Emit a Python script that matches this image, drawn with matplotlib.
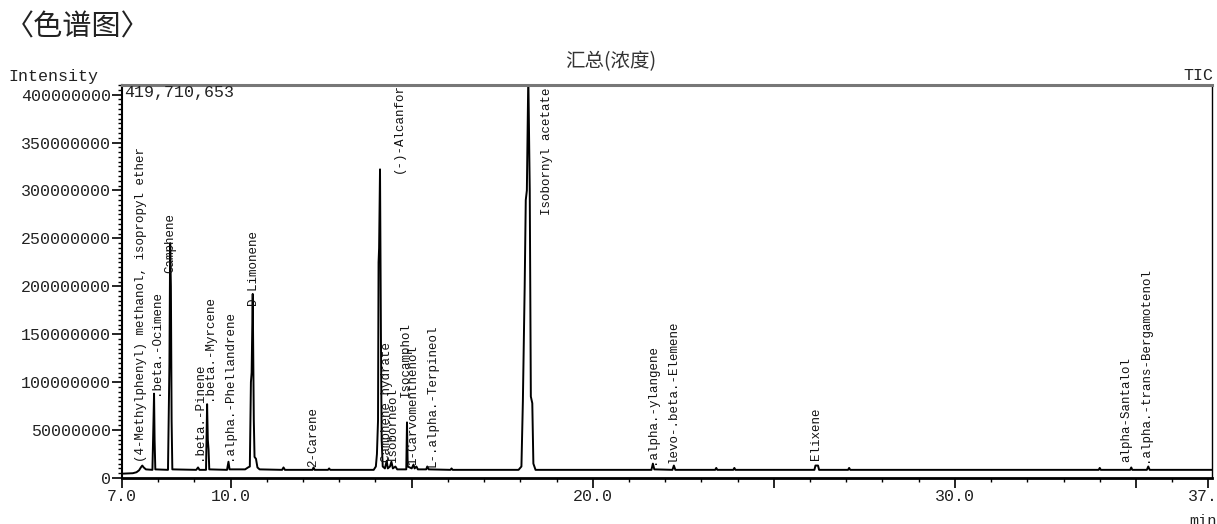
import matplotlib
matplotlib.use("Agg")
import matplotlib.pyplot as plt
from matplotlib.ticker import MultipleLocator, FixedLocator

W, H = 1217, 524
MONO = "Liberation Mono"
CJK = ["Noto Sans CJK SC", "DejaVu Sans"]

# --- TIC trace (min, intensity in millions) ---------------------------------
trace_min = [7.00, 7.30, 7.40, 7.47, 7.52, 7.56, 7.60, 7.66,
             7.84, 7.87, 7.885, 7.90, 7.92,
             8.27, 8.31, 8.33, 8.35, 8.37, 8.39,
             9.05, 9.10, 9.14, 9.32, 9.35, 9.37, 9.39, 9.41,
             9.90, 9.94, 9.97,
             10.40, 10.48, 10.53, 10.56, 10.58, 10.61, 10.64, 10.66, 10.70, 10.74, 10.80,
             11.42, 11.46, 11.50, 12.26, 12.29, 12.32, 12.69, 12.72, 12.75,
             13.95, 14.01, 14.04, 14.07, 14.085, 14.10, 14.125, 14.15, 14.17, 14.20,
             14.26, 14.31, 14.34, 14.40, 14.44, 14.48, 14.55, 14.60,
             14.85, 14.87, 14.89, 15.00, 15.05, 15.08, 15.13, 15.17,
             15.40, 15.43, 15.47, 16.07, 16.10, 16.13,
             17.95, 18.03, 18.07, 18.12, 18.15, 18.18, 18.22, 18.26, 18.29, 18.33, 18.36, 18.42,
             21.62, 21.66, 21.70, 22.20, 22.24, 22.28,
             23.38, 23.41, 23.44, 23.88, 23.91, 23.94,
             26.12, 26.15, 26.22, 26.25, 27.05, 27.08, 27.11,
             33.97, 34.00, 34.03, 34.84, 34.87, 34.90, 35.30, 35.34, 35.38, 37.10]
trace_int = [4.5, 5.0, 6.0, 8.0, 11.0, 13.0, 11.0, 9.0,
             8.5, 60.0, 88.0, 40.0, 9.0,
             8.5, 120.0, 245.0, 200.0, 60.0, 9.0,
             8.5, 11.0, 8.5, 8.5, 77.0, 40.0, 30.0, 9.0,
             8.5, 17.0, 9.0,
             9.0, 11.0, 12.0, 100.0, 110.0, 192.0, 60.0, 22.0, 20.0, 11.0, 9.0,
             8.5, 11.0, 8.5, 8.5, 11.0, 8.5, 8.5, 10.0, 8.5,
             8.5, 12.0, 25.0, 60.0, 225.0, 240.0, 322.0, 150.0, 40.0, 12.0,
             10.0, 18.0, 10.0, 12.0, 17.0, 10.0, 12.0, 9.0,
             9.0, 58.0, 12.0, 10.0, 14.0, 10.0, 12.0, 9.0,
             9.0, 12.0, 9.0, 8.5, 10.0, 8.5,
             8.5, 12.0, 80.0, 200.0, 290.0, 300.0, 419.710653, 300.0, 85.0, 78.0, 15.0, 8.5,
             8.5, 15.0, 9.0, 8.5, 13.0, 8.5,
             8.5, 10.5, 8.5, 8.5, 10.5, 8.5,
             8.5, 13.0, 13.0, 8.5, 8.5, 10.5, 8.5,
             8.5, 10.5, 8.5, 8.5, 11.0, 8.5, 8.5, 12.0, 8.5, 8.5]

# --- peak annotations --------------------------------------------------------
peak_names = ["(4-Methylphenyl) methanol, isopropyl ether", ".beta.-Ocimene", "Camphene",
              ".beta.-Pinene", ".beta.-Myrcene", ".alpha.-Phellandrene", "D-Limonene",
              "2-Carene", "(-)-Alcanfor", "Camphene hydrate", "Isoborneol", "Isocamphol",
              "1-Carvomenthenol", "L-.alpha.-Terpineol", "Isobornyl acetate",
              ".alpha.-ylangene", "levo-.beta.-Elemene", "Elixene", "alpha-Santalol",
              ".alpha.-trans-Bergamotenol"]
label_min = [7.52, 7.93, 8.33, 9.12, 9.40, 9.95, 10.61, 12.29, 14.64, 14.31, 14.47,
             14.83, 15.05, 15.57, 18.74, 21.64, 22.22, 26.16, 34.74, 35.24]
label_int = [16.7, 86.6, 214.0, 18.8, 81.0, 18.8, 180.0, 11.5, 318.0, 16.7, 16.7,
             84.5, 13.6, 11.5, 274.0, 14.6, 15.6, 18.8, 16.7, 16.7]

max_intensity = "419,710,653"
x_major = [7, 10, 15, 20, 25, 30, 35, 37]
x_labels = ["7.0", "10.0", "", "20.0", "", "30.0", "", "37.0"]


def px(x, y):
    return x / W, 1 - y / H


fig = plt.figure(figsize=(W / 100, H / 100), dpi=100)
ax = fig.add_axes([122 / W, 1 - 478 / H, (1212 - 122) / W, (478 - 85) / H])

ax.plot(trace_min, [v * 1e6 for v in trace_int], color="black", lw=1.4)

for name, t, v in zip(peak_names, label_min, label_int):
    ax.text(t, v * 1e6, name, rotation=90, ha="center", va="bottom",
            fontsize=9, family=MONO, color="#111111")

ax.set_xlim(7.0, 37.1)
ax.set_ylim(0, 4.1e8)

ax.xaxis.set_major_locator(FixedLocator(x_major))
ax.set_xticklabels(x_labels)
ax.xaxis.set_minor_locator(MultipleLocator(1))
ax.yaxis.set_major_locator(MultipleLocator(5e7))
ax.yaxis.set_minor_locator(MultipleLocator(5e6))
ax.yaxis.set_major_formatter(matplotlib.ticker.FuncFormatter(lambda v, p: "%d" % round(v)))

ax.tick_params(axis="both", which="major", direction="out", length=7, width=1.2,
               labelsize=12, colors="black", pad=1)
ax.tick_params(axis="both", which="minor", direction="out", length=3, width=1)
for lab in ax.get_xticklabels() + ax.get_yticklabels():
    lab.set_family(MONO)
    lab.set_color("#222222")

ax.spines["top"].set_color("#777777")
ax.spines["top"].set_linewidth(2.2)
ax.spines["left"].set_linewidth(1.5)
ax.spines["right"].set_linewidth(1.0)
ax.spines["bottom"].set_linewidth(2.0)

fig.text(*px(5, 27), "〈色谱图〉", family=CJK, fontsize=21, va="center", ha="left", color="#222222")
fig.text(*px(611, 62), "汇总(浓度)", family=CJK, fontsize=14, va="center", ha="center", color="#333333")
fig.text(*px(8, 76), "Intensity", family=MONO, fontsize=12, va="center", ha="left", color="#222222")
fig.text(*px(1213, 76), "TIC", family=MONO, fontsize=12, va="center", ha="right", color="#222222")
fig.text(*px(124, 93), max_intensity, family=MONO, fontsize=12, va="center", ha="left", color="#222222")
fig.text(*px(1203, 521), "min", family=MONO, fontsize=11, va="center", ha="center", color="#222222")

fig.savefig("out.png", dpi=100)
